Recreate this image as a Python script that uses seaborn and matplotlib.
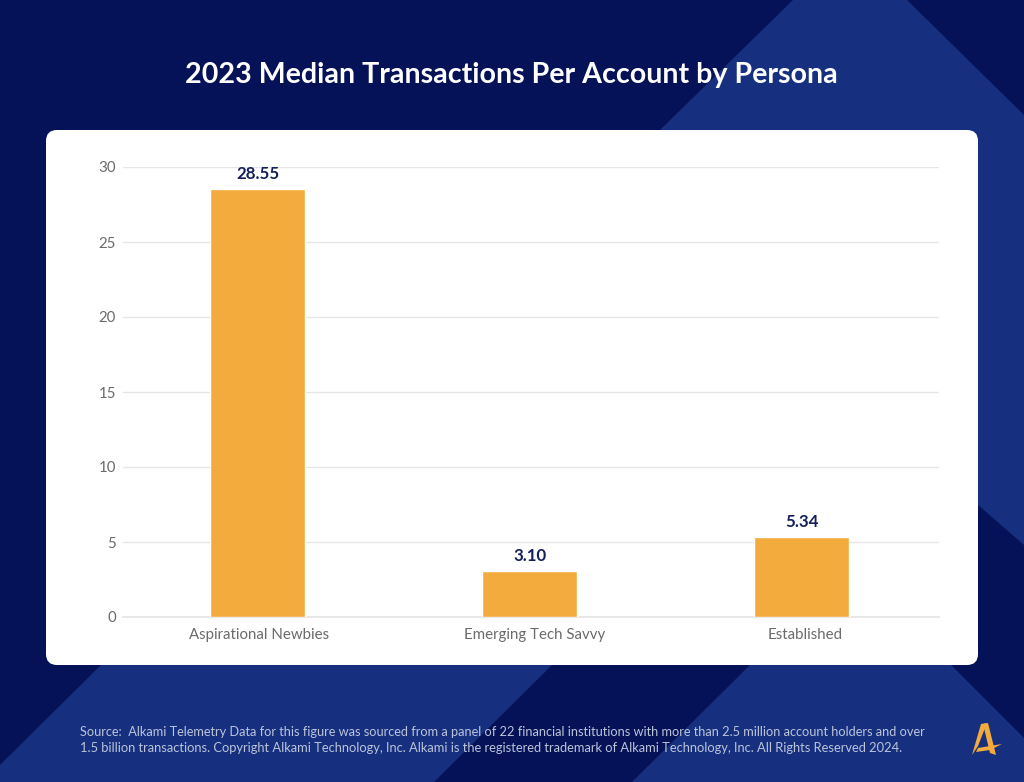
import matplotlib
matplotlib.use('Agg')
import matplotlib.pyplot as plt
import seaborn as sns
import pandas as pd
from matplotlib.patches import Polygon, FancyBboxPatch
from matplotlib.transforms import ScaledTranslation

# data
personas = ['Aspirational Newbies', 'Emerging Tech Savvy', 'Established']
median_transactions = [28.55, 3.10, 5.34]
y_ticks = [0, 5, 10, 15, 20, 25, 30]

title = '2023 Median Transactions Per Account by Persona'
source_1 = 'Source:  Alkami Telemetry Data for this figure was sourced from a panel of 22 financial institutions with more than 2.5 million account holders and over'
source_2 = '1.5 billion transactions. Copyright Alkami Technology, Inc. Alkami is the registered trademark of Alkami Technology, Inc. All Rights Reserved 2024.'

NAVY = '#061257'
BLUE = '#16307f'
GOLD = '#f2ab3c'

sns.set_theme(style='white')
plt.rcParams['font.family'] = ['Lato', 'DejaVu Sans']

fig = plt.figure(figsize=(10.24, 7.82), dpi=100, facecolor=NAVY)

# background in pixel coordinates
bg = fig.add_axes([0, 0, 1, 1])
bg.set_xlim(0, 1024)
bg.set_ylim(782, 0)
bg.axis('off')

shapes = [
    [(793, 0), (907, 0), (1024, 115), (1024, 545), (978, 505), (978, 300), (660, 130)],
    [(101, 665), (552, 665), (434, 782), (0, 782), (0, 765)],
    [(750, 665), (951, 665), (1024, 738), (1024, 782), (632, 782)],
]
for pts in shapes:
    bg.add_patch(Polygon(pts, closed=True, facecolor=BLUE, edgecolor='none'))
# the blue shape continues behind the card
bg.add_patch(Polygon([(660, 130), (978, 130), (978, 300)], closed=True, facecolor=BLUE, edgecolor='none'))

bg.add_patch(FancyBboxPatch((56, 140), 912, 515, boxstyle='round,pad=10,rounding_size=11',
                            facecolor='white', edgecolor='none', zorder=2))

bg.text(511.5, 75.5, title, color='white', fontsize=20.6, fontweight='bold',
        ha='center', va='center', zorder=3)
bg.text(80, 732, source_1, color='#bcc4da', fontsize=9.2, ha='left', va='center', zorder=3)
bg.text(80, 747.5, source_2, color='#bcc4da', fontsize=9.27, ha='left', va='center', zorder=3)

# logo
logo = [
    [(981, 724), (987, 723), (978, 746), (972, 755)],
    [(983, 724), (988, 723), (996, 755), (990, 753)],
    [(978, 748), (1002, 744), (990, 750), (976, 752)],
]
for pts in logo:
    bg.add_patch(Polygon(pts, closed=True, facecolor=GOLD, edgecolor='none', zorder=3))

# chart
ax = fig.add_axes([123 / 1024, 1 - 617 / 782, 816 / 1024, 450 / 782])
ax.patch.set_alpha(0)
df = pd.DataFrame({'persona': personas, 'value': median_transactions})
sns.barplot(data=df, x='persona', y='value', color=GOLD, saturation=1, width=0.347, ax=ax, zorder=3)

ax.set_xlim(-0.495, 2.505)
ax.set_ylim(0, 30)
ax.set_yticks(y_ticks)
ax.set_xlabel('')
ax.set_ylabel('')
ax.grid(axis='y', color='#e6e6e6', linewidth=1)
ax.set_axisbelow(True)
sns.despine(ax=ax, left=True, top=True, right=True)
ax.spines['bottom'].set_color('#e6e6e6')
ax.tick_params(axis='both', length=0, labelcolor='#6b6b6b', labelsize=10.8)
ax.tick_params(axis='x', pad=8)
ax.tick_params(axis='y', pad=5)

# x labels sit slightly right of the bars in the original
for lab, dx in zip(ax.get_xticklabels(), [1, 5, 3]):
    lab.set_transform(lab.get_transform() + ScaledTranslation(dx / 100, 0, fig.dpi_scale_trans))

ax.bar_label(ax.containers[0], labels=[f'{v:.2f}' for v in median_transactions], padding=5,
             color='#141f5c', fontsize=12.2, fontweight='bold')

fig.savefig('out.png', dpi=100, facecolor=fig.get_facecolor())
